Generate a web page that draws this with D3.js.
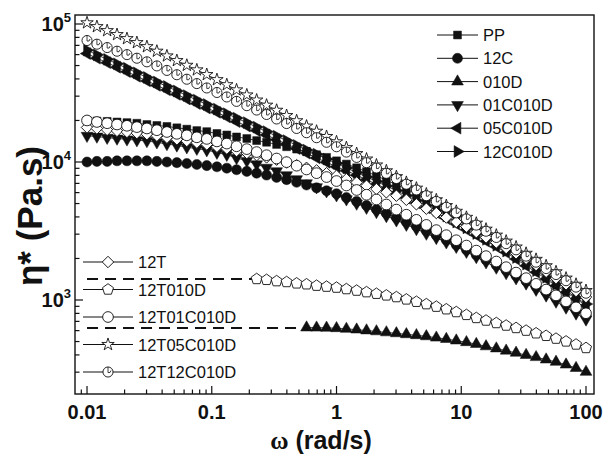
<!DOCTYPE html>
<html>
<head>
<meta charset="utf-8">
<script src="https://cdn.jsdelivr.net/npm/d3@7"></script>
<style>
body { margin: 0; background: #fff; }
text { font-family: Arial, "Liberation Sans", sans-serif; fill: #111; }
</style>
</head>
<body>
<script>
// Angular frequency (rad/s)
var omega = [0.01, 0.012, 0.0145, 0.0174, 0.0209, 0.0251, 0.0302, 0.0363, 0.0437, 0.0525,
  0.0631, 0.0759, 0.0912, 0.11, 0.132, 0.158, 0.191, 0.229, 0.275, 0.331,
  0.398, 0.479, 0.575, 0.692, 0.832, 1, 1.2, 1.45, 1.74, 2.09,
  2.51, 3.02, 3.63, 4.37, 5.25, 6.31, 7.59, 9.12, 11, 13.2,
  15.8, 19.1, 22.9, 27.5, 33.1, 39.8, 47.9, 57.5, 69.2, 83.2, 100];

// Complex viscosity (Pa.s), one list per sample
var etaPP = [20000, 19800, 19700, 19500, 19300, 19100, 18700, 18400, 18100, 17700,
  17300, 16900, 16600, 16100, 15700, 15200, 14800, 14300, 13900, 13400,
  12900, 12400, 11900, 11300, 10800, 10200, 9660, 9080, 8510, 7940,
  7380, 6850, 6350, 5870, 5420, 4990, 4580, 4190, 3820, 3460,
  3130, 2820, 2540, 2280, 2040, 1830, 1640, 1480, 1320, 1190, 1070];
var eta12C = [10000, 10100, 10100, 10200, 10200, 10200, 10200, 10100, 10000, 9890,
  9750, 9600, 9420, 9230, 9020, 8790, 8550, 8300, 8040, 7740,
  7450, 7130, 6810, 6500, 6190, 5890, 5520, 5180, 4840, 4530,
  4240, 3950, 3680, 3420, 3170, 2940, 2720, 2510, 2310, 2120,
  1950, 1790, 1640, 1500, 1370, 1250, 1140, 1030, 938, 851, 773];
var eta010D = [null, null, null, null, null, null, null, null, null, null,
  null, null, null, null, null, null, null, null, null, null,
  null, null, 631, 630, 628, 624, 617, 610, 601, 592,
  582, 573, 564, 555, 545, 533, 521, 508, 494, 479,
  461, 445, 429, 414, 399, 385, 370, 356, 340, 321, 301];
var eta01C010D = [15500, 15300, 15000, 14800, 14600, 14400, 14200, 13900, 13500, 13200,
  12800, 12500, 12200, 11700, 11300, 10700, 10200, 9640, 9100, 8590,
  8040, 7520, 7030, 6580, 6150, 5750, 5370, 5000, 4670, 4350,
  4060, 3780, 3520, 3270, 3030, 2820, 2620, 2430, 2240, 2050,
  1880, 1720, 1570, 1440, 1320, 1190, 1080, 975, 883, 800, 724];
var eta05C010D = [61000, 56500, 52400, 48600, 45100, 41800, 38700, 35900, 33300, 30900,
  28600, 26500, 24600, 22900, 21200, 19600, 18200, 16900, 15700, 14500,
  13500, 12500, 11600, 10700, 9950, 9230, 8650, 8020, 7450, 6900,
  6400, 5930, 5480, 5050, 4660, 4290, 3900, 3550, 3230, 2940,
  2670, 2430, 2210, 1980, 1770, 1590, 1420, 1270, 1140, 1020, 914];
var eta12C010D = [64600, 59800, 55500, 51500, 47800, 44300, 41000, 38000, 35300, 32700,
  30300, 28100, 26100, 24200, 22400, 20800, 19300, 17900, 16600, 15400,
  14300, 13200, 12200, 11400, 10500, 9770, 9060, 8390, 7800, 7230,
  6700, 6210, 5710, 5260, 4840, 4460, 4050, 3670, 3330, 3030,
  2750, 2490, 2260, 2030, 1820, 1630, 1460, 1300, 1170, 1040, 935];
var eta12T = [17800, 17500, 17100, 16800, 16500, 16200, 15900, 15500, 15000, 14600,
  14200, 13800, 13400, 12900, 12500, 12000, 11600, 11200, 10800, 10400,
  9910, 9480, 9080, 8690, 8300, 7940, 7520, 7110, 6730, 6370,
  6030, 5700, 5320, 4940, 4590, 4270, 3960, 3680, 3400, 3100,
  2840, 2610, 2380, 2180, 1990, 1790, 1600, 1440, 1300, 1160, 1050];
var eta12T010D = [null, null, null, null, null, null, null, null, null, null,
  null, null, null, null, null, null, null, 1420, 1400, 1370,
  1350, 1320, 1300, 1270, 1250, 1230, 1200, 1170, 1140, 1110,
  1080, 1050, 1010, 971, 933, 895, 857, 818, 780, 741,
  710, 681, 653, 627, 600, 574, 550, 525, 501, 476, 449];
var eta12T01C010D = [20000, 19500, 19100, 18700, 18300, 17900, 17500, 17000, 16500, 16000,
  15600, 15100, 14700, 14100, 13600, 13000, 12400, 11800, 11200, 10600,
  9980, 9400, 8830, 8300, 7780, 7280, 6760, 6270, 5790, 5350,
  4920, 4520, 4150, 3810, 3500, 3210, 2950, 2710, 2480, 2280,
  2080, 1900, 1730, 1580, 1440, 1310, 1190, 1080, 977, 885, 802];
var eta12T05C010D = [102000, 95700, 89500, 83800, 78300, 73300, 68500, 63500, 58700, 54300,
  50200, 46500, 43000, 39500, 36300, 33300, 30600, 28100, 25800, 23700,
  21700, 19900, 18200, 16700, 15300, 14000, 12700, 11500, 10500, 9510,
  8630, 7830, 7110, 6460, 5860, 5320, 4830, 4390, 3970, 3600,
  3260, 2950, 2670, 2420, 2180, 1970, 1770, 1600, 1440, 1300, 1170];
var eta12T12C010D = [75900, 71400, 67500, 63500, 60000, 56500, 53200, 49700, 46100, 42900,
  39800, 37000, 34400, 31900, 29600, 27500, 25600, 23800, 22100, 20500,
  19000, 17500, 16300, 15000, 13900, 12900, 11800, 10800, 9890, 9040,
  8280, 7590, 6900, 6270, 5700, 5180, 4700, 4280, 3870, 3490,
  3150, 2840, 2560, 2310, 2080, 1880, 1690, 1530, 1380, 1240, 1120];

// Newtonian plateau drawn as dashed extrapolation
var plateau12T010D = 1420;
var plateau010D = 628;

var legendTop = ["PP", "12C", "010D", "01C010D", "05C010D", "12C010D"];
var legendBottom = ["12T", "12T010D", "12T01C010D", "12T05C010D", "12T12C010D"];
var xTickLabels = ["0.01", "0.1", "1", "10", "100"];

// Plot frame
var width = 603, height = 455;
var frame = { left: 75, right: 594, top: 15, bottom: 394 };

var svg = d3.select("body").append("svg")
  .attr("width", width)
  .attr("height", height);

var x = d3.scaleLog().domain([0.00801, 115.9]).range([frame.left, frame.right]);
var y = d3.scaleLog().domain([208.4, 116200]).range([frame.bottom, frame.top]);

// marker shapes
function pentagon(r) {
  var pts = d3.range(5).map(function(k) {
    var a = -Math.PI / 2 + k * 2 * Math.PI / 5;
    return [r * Math.cos(a), r * Math.sin(a)];
  });
  return "M" + pts.join("L") + "Z";
}
var shapes = {
  square: { d: d3.symbol(d3.symbolSquare, 62)(), rot: 0 },
  circle: { d: d3.symbol(d3.symbolCircle, 80)(), rot: 0 },
  up: { d: d3.symbol(d3.symbolTriangle, 60)(), rot: 0 },
  down: { d: d3.symbol(d3.symbolTriangle, 60)(), rot: 180 },
  left: { d: d3.symbol(d3.symbolTriangle, 60)(), rot: -90 },
  right: { d: d3.symbol(d3.symbolTriangle, 60)(), rot: 90 },
  diamond: { d: d3.symbol(d3.symbolSquare, 66)(), rot: 45 },
  pentagon: { d: pentagon(5.8), rot: 0 },
  ocircle: { d: d3.symbol(d3.symbolCircle, 90)(), rot: 0 },
  star: { d: d3.symbol(d3.symbolStar, 48)(), rot: 0 },
  hook: { d: d3.symbol(d3.symbolCircle, 80)(), rot: 0 }
};

function drawMarker(g, shape, filled) {
  var s = shapes[shape];
  g.append("path")
    .attr("d", s.d)
    .attr("transform", "rotate(" + s.rot + ")")
    .attr("fill", filled ? "#111" : "#fff")
    .attr("stroke", "#111")
    .attr("stroke-width", filled ? 0.5 : 0.9);
  if (shape === "hook") {
    g.append("path")
      .attr("d", "M0,-5V0.5Q2.5,1.5 3,-1.5")
      .attr("fill", "none")
      .attr("stroke", "#111")
      .attr("stroke-width", 0.8);
  }
}

var series = [
  { name: "PP", eta: etaPP, shape: "square", filled: true },
  { name: "12C", eta: eta12C, shape: "circle", filled: true },
  { name: "010D", eta: eta010D, shape: "up", filled: true },
  { name: "01C010D", eta: eta01C010D, shape: "down", filled: true },
  { name: "05C010D", eta: eta05C010D, shape: "left", filled: true },
  { name: "12C010D", eta: eta12C010D, shape: "right", filled: true },
  { name: "12T", eta: eta12T, shape: "diamond", filled: false },
  { name: "12T010D", eta: eta12T010D, shape: "pentagon", filled: false },
  { name: "12T01C010D", eta: eta12T01C010D, shape: "ocircle", filled: false },
  { name: "12T05C010D", eta: eta12T05C010D, shape: "star", filled: false },
  { name: "12T12C010D", eta: eta12T12C010D, shape: "hook", filled: false }
];

// Axes: inward ticks on bottom and left
var xt = x.ticks().filter(function(t) { return t >= x.domain()[0] && t <= x.domain()[1]; });
var yt = y.ticks().filter(function(t) { return t >= y.domain()[0] && t <= y.domain()[1]; });
function isMajor(t) { return Math.abs(Math.log10(t) - Math.round(Math.log10(t))) < 1e-6; }

var axes = svg.append("g").attr("stroke", "#111");
axes.selectAll(".xt").data(xt).enter().append("line")
  .attr("x1", function(d) { return x(d); }).attr("x2", function(d) { return x(d); })
  .attr("y1", frame.bottom).attr("y2", function(d) { return frame.bottom - (isMajor(d) ? 8 : 4.5); })
  .attr("stroke-width", 1.2);
axes.selectAll(".yt").data(yt).enter().append("line")
  .attr("y1", function(d) { return y(d); }).attr("y2", function(d) { return y(d); })
  .attr("x1", frame.left).attr("x2", function(d) { return frame.left + (isMajor(d) ? 8 : 4.5); })
  .attr("stroke-width", 1.2);

// x tick labels
var xMajor = xt.filter(isMajor);
svg.selectAll(".xl").data(xMajor).enter().append("text")
  .attr("x", function(d) { return x(d); })
  .attr("y", 419)
  .attr("text-anchor", "middle")
  .attr("font-size", 20)
  .attr("font-weight", "bold")
  .text(function(d, i) { return xTickLabels[i]; });

// y tick labels 10^n
var yMajor = yt.filter(isMajor);
var yl = svg.selectAll(".yl").data(yMajor).enter().append("text")
  .attr("x", 71)
  .attr("y", function(d) { return y(d) + 7; })
  .attr("text-anchor", "end")
  .attr("font-size", 20)
  .attr("font-weight", "bold");
yl.append("tspan").text("10");
yl.append("tspan").attr("dy", -9).attr("font-size", 13)
  .text(function(d) { return Math.round(Math.log10(d)); });

// dashed plateau lines
function firstIndex(arr) { return arr.findIndex(function(v) { return v != null; }); }
[[plateau12T010D, eta12T010D], [plateau010D, eta010D]].forEach(function(p) {
  svg.append("line")
    .attr("x1", x(omega[0])).attr("x2", x(omega[firstIndex(p[1])]) - 4)
    .attr("y1", y(p[0])).attr("y2", y(p[0]))
    .attr("stroke", "#111").attr("stroke-width", 2)
    .attr("stroke-dasharray", "11,7");
});

// data lines and markers
var line = d3.line()
  .defined(function(d) { return d[1] != null; })
  .x(function(d) { return x(d[0]); })
  .y(function(d) { return y(d[1]); });

series.forEach(function(s) {
  var pts = omega.map(function(w, i) { return [w, s.eta[i]]; });
  svg.append("path")
    .datum(pts)
    .attr("d", line)
    .attr("fill", "none")
    .attr("stroke", "#111")
    .attr("stroke-width", 0.8);
  pts.filter(function(d) { return d[1] != null; }).forEach(function(d) {
    var g = svg.append("g").attr("transform", "translate(" + x(d[0]) + "," + y(d[1]) + ")");
    drawMarker(g, s.shape, s.filled);
  });
});

// legends
function legend(names, lx1, lx2, top, step) {
  names.forEach(function(n, i) {
    var s = series.find(function(q) { return q.name === n; });
    var yy = top + i * step;
    svg.append("line").attr("x1", lx1).attr("x2", lx2).attr("y1", yy).attr("y2", yy)
      .attr("stroke", "#111").attr("stroke-width", 1);
    var g = svg.append("g").attr("transform", "translate(" + (lx1 + lx2) / 2 + "," + yy + ")");
    drawMarker(g, s.shape, s.filled);
    svg.append("text").attr("x", lx2 + 5).attr("y", yy + 6)
      .attr("font-size", 16.5).text(n);
  });
}
legend(legendTop, 437, 478, 35, 23.3);
legend(legendBottom, 83, 133, 262, 27.5);

// frame
svg.append("rect")
  .attr("x", frame.left).attr("y", frame.top)
  .attr("width", frame.right - frame.left).attr("height", frame.bottom - frame.top)
  .attr("fill", "none").attr("stroke", "#111").attr("stroke-width", 1.4);

// axis titles
var xt1 = svg.append("text")
  .attr("x", 321).attr("y", 449)
  .attr("text-anchor", "middle")
  .attr("font-size", 25)
  .attr("font-weight", "bold");
xt1.append("tspan").attr("font-family", "'Liberation Serif', 'Times New Roman', serif").text("\u03c9");
xt1.append("tspan").text(" (rad/s)");

svg.append("text")
  .attr("transform", "translate(42,216) rotate(-90)")
  .attr("text-anchor", "middle")
  .attr("font-size", 35)
  .attr("font-weight", "bold")
  .attr("font-family", "'Liberation Serif', 'Times New Roman', serif")
  .text("\u03b7* (Pa.s)");
</script>
</body>
</html>
